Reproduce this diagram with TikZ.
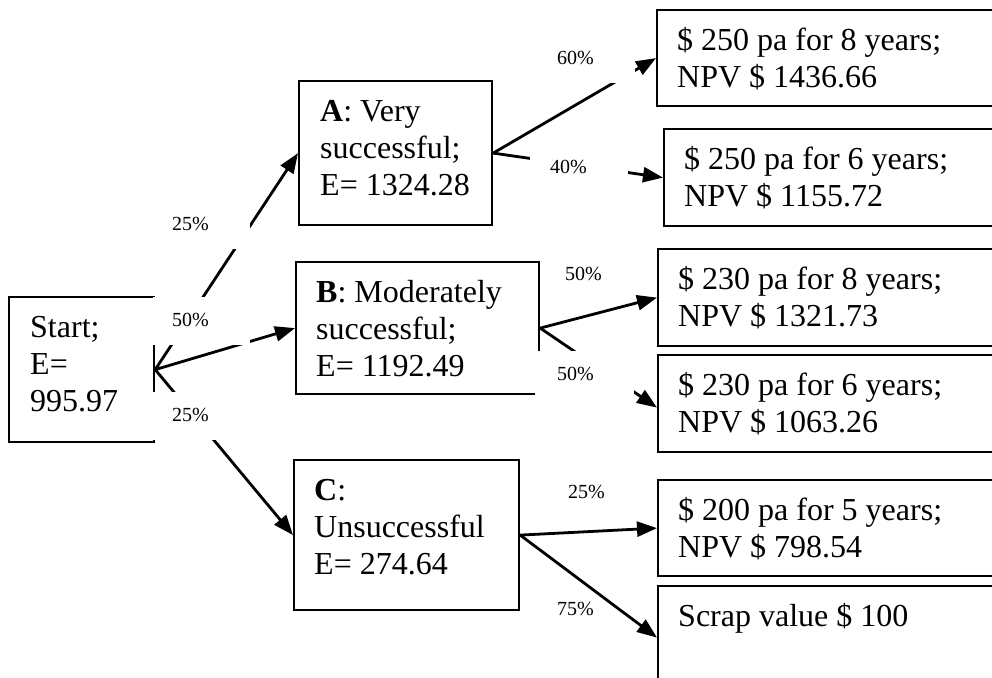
\documentclass[tikz,border=0pt]{standalone}
\usepackage{fontspec}
\setmainfont{Liberation Serif}
\usetikzlibrary{arrows.meta}
\newcommand\bxfont{\fontsize{32}{37}\selectfont}
\newcommand\pcfont{\fontsize{20}{24}\selectfont}
\newcommand\fs{\rule{0pt}{30pt}}
\begin{document}
\begin{tikzpicture}[x=1pt,y=-1pt,
  box/.style={draw=black, line width=2.2pt, rectangle, inner sep=0pt, anchor=north west},
  txt/.style={anchor=north west, inner sep=0pt, align=left, font=\bxfont},
  arr/.style={line width=2.8pt, -{Triangle[length=20pt,width=15pt]}},
  pct/.style={anchor=north west, inner sep=0pt, font=\pcfont, fill=white,
    text width=97pt, align=left, text height=29.5pt, text depth=18.5pt},
  pctn/.style={pct, fill=none}]
\useasboundingbox (0,0) rectangle (992,677);
\fill[white] (0,0) rectangle (992,677);
\clip (0,0) rectangle (992,677);
% boxes
\node[box, minimum width=145pt, minimum height=145pt] (S) at (8,296) {};
\node[box, minimum width=193pt, minimum height=144pt] (A) at (298,80) {};
\node[box, minimum width=243pt, minimum height=132pt] (B) at (295,261) {};
\node[box, minimum width=225pt, minimum height=150pt] (C) at (293,459) {};
\node[box, minimum width=354pt, minimum height=96pt] (R1) at (656,9) {};
\node[box, minimum width=347pt, minimum height=97pt] (R2) at (663,128) {};
\node[box, minimum width=353pt, minimum height=97pt] (R3) at (657,248) {};
\node[box, minimum width=353pt, minimum height=97pt] (R4) at (657,354) {};
\node[box, minimum width=353pt, minimum height=96pt] (R5) at (657,479) {};
\node[box, minimum width=353pt, minimum height=97pt] (R6) at (657,585) {};
% texts
\node[txt] (tS) at (30,307) {\fs Start;\\E=\\995.97};
\node[txt] (tA) at (320,91) {\fs\textbf{A}: Very\\successful;\\E= 1324.28};
\node[txt] (tB) at (316,272) {\fs\textbf{B}: Moderately\\successful;\\E= 1192.49};
\node[txt] (tC) at (314,470) {\fs\textbf{C}:\\Unsuccessful\\E= 274.64};
\node[txt] (t1) at (677,20) {\fs\$ 250 pa for 8 years;\\NPV \$ 1436.66};
\node[txt] (t2) at (684,139) {\fs\$ 250 pa for 6 years;\\NPV \$ 1155.72};
\node[txt] (t3) at (678,259) {\fs\$ 230 pa for 8 years;\\NPV \$ 1321.73};
\node[txt] (t4) at (678,365) {\fs\$ 230 pa for 6 years;\\NPV \$ 1063.26};
\node[txt] (t5) at (678,490) {\fs\$ 200 pa for 5 years;\\NPV \$ 798.54};
\node[txt] (t6) at (678,596) {\fs Scrap value \$ 100};
% connectors
\draw[arr] (S.east) -- (A.west);
\draw[arr] (S.east) -- (B.west);
\draw[arr] (S.east) -- (C.west);
\draw[arr] (A.east) -- (R1.west);
\draw[arr] (A.east) -- (R2.west);
\draw[arr] (B.east) -- ([yshift=-4pt]R4.west);
\draw[arr] (B.east) -- (R3.west);
\draw[arr] (C.east) -- (R5.west);
\draw[arr] (C.east) -- ([yshift=-3pt]R6.west);
% probability labels
\node[pct] (p25a) at (153,201) {\hspace*{19pt}25\%};
\node[pct] (p50a) at (153,297) {\hspace*{19pt}50\%};
\node[pct] (p25b) at (153,392) {\hspace*{19pt}25\%};
\node[pct] (p60) at (538,35) {\hspace*{19pt}60\%};
\node[pct, text width=98pt] (p40) at (530,144) {\hspace*{20pt}40\%};
\node[pctn] (p50b) at (546,251) {\hspace*{19pt}50\%};
\node[pct, text width=99pt] (p50c) at (535,351) {\hspace*{22pt}50\%};
\node[pctn] (p25c) at (549,469) {\hspace*{19pt}25\%};
\node[pctn] (p75) at (538,586) {\hspace*{19pt}75\%};
\end{tikzpicture}
\end{document}
